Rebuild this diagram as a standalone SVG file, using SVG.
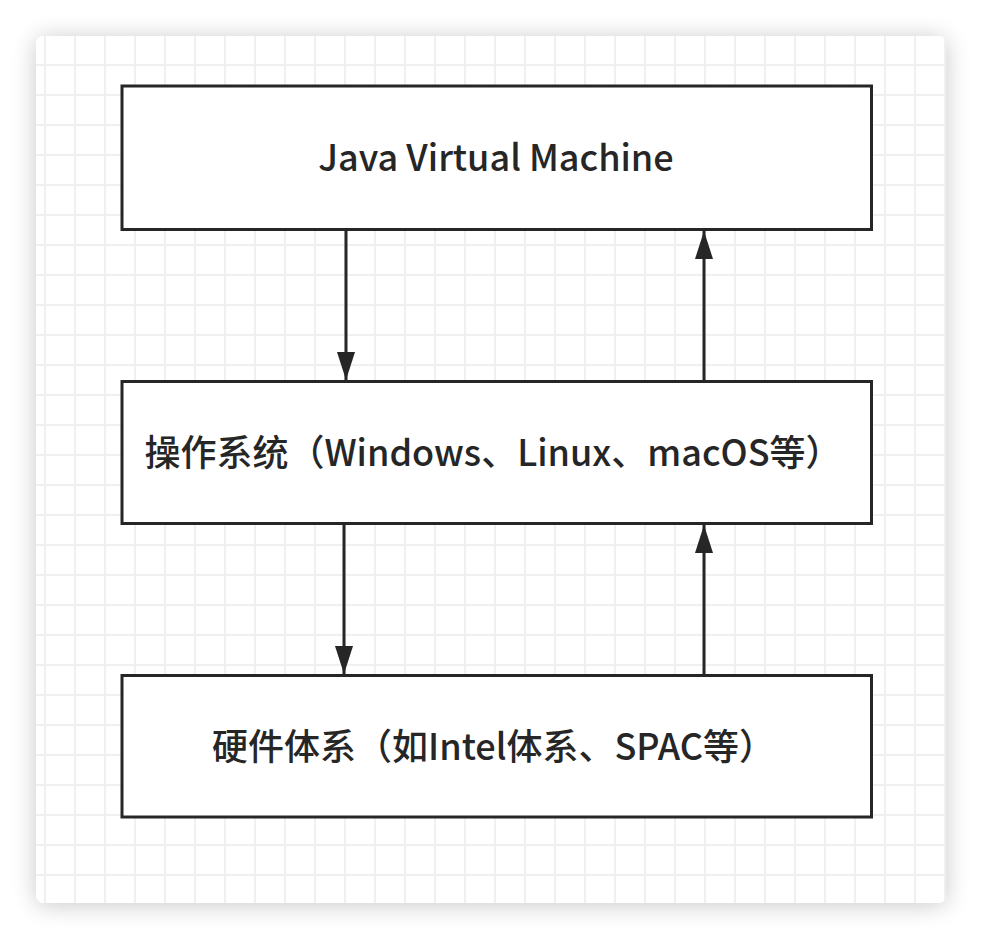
<svg xmlns="http://www.w3.org/2000/svg" width="984" height="940" viewBox="0 0 984 940">
  <defs>
    <filter id="shadow" x="-10%" y="-10%" width="120%" height="120%">
      <feGaussianBlur in="SourceAlpha" stdDeviation="12"/>
      <feOffset dx="0" dy="2" result="b"/>
      <feComponentTransfer><feFuncA type="linear" slope="0.22"/></feComponentTransfer>
      <feMerge><feMergeNode/><feMergeNode in="SourceGraphic"/></feMerge>
    </filter>
    <pattern id="grid" patternUnits="userSpaceOnUse" x="30" y="50" width="30" height="30">
      <path d="M15 0 V30 M0 15 H30" stroke="#f0f0f0" stroke-width="2" fill="none"/>
    </pattern>
    <clipPath id="cardClip"><rect x="36" y="36" width="910" height="867" rx="8"/></clipPath>
    <marker id="arrow" markerUnits="userSpaceOnUse" markerWidth="28" markerHeight="18" refX="28" refY="9" viewBox="0 0 28 18" orient="auto">
      <path d="M0 0 L28 9 L0 18 Z" fill="#262626"/>
    </marker>
  </defs>
  <style>
    .box { fill: #ffffff; stroke: #262626; stroke-width: 3; }
    .label { font-family: "Noto Sans CJK SC", "Noto Sans", sans-serif; font-size: 36px; fill: #262626; text-anchor: middle; font-weight: 500; }
    .conn { stroke: #262626; stroke-width: 3; fill: none; }
  </style>
  <rect width="984" height="940" fill="#ffffff"/>
  <g id="card">
    <rect x="36" y="36" width="910" height="867" rx="8" fill="#ffffff" filter="url(#shadow)"/>
    <rect x="36" y="36" width="910" height="867" fill="url(#grid)" clip-path="url(#cardClip)"/>
  </g>
  <g id="connectors">
    <line class="conn" x1="346" y1="230" x2="346" y2="380" marker-end="url(#arrow)"/>
    <line class="conn" x1="704" y1="380" x2="704" y2="231" marker-end="url(#arrow)"/>
    <line class="conn" x1="344" y1="524" x2="344" y2="674" marker-end="url(#arrow)"/>
    <line class="conn" x1="704" y1="674" x2="704" y2="525" marker-end="url(#arrow)"/>
  </g>
  <g id="jvm">
    <rect class="box" x="122" y="86" width="749.5" height="143.5"/>
    <text class="label" x="496" y="171">Java Virtual Machine</text>
  </g>
  <g id="os">
    <rect class="box" x="122" y="381.5" width="749.5" height="142"/>
    <text class="label" x="493" y="466">操作系统（Windows、Linux、macOS等）</text>
  </g>
  <g id="hardware">
    <rect class="box" x="122" y="675.5" width="749.5" height="141.5"/>
    <text class="label" x="493.5" y="760">硬件体系（如Intel体系、SPAC等）</text>
  </g>
</svg>
